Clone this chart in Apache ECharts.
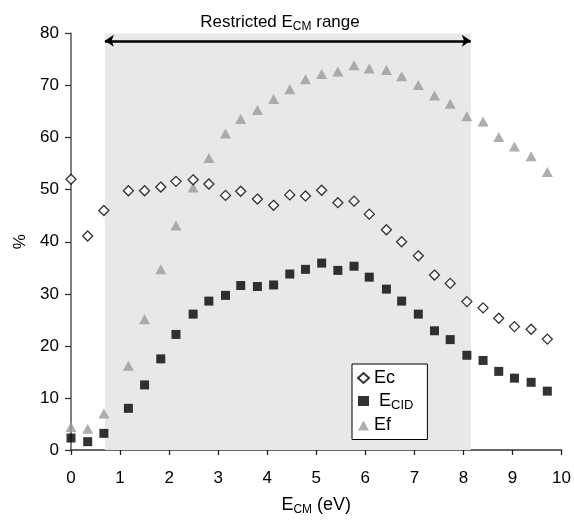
<!DOCTYPE html>
<html>
<head>
<meta charset="utf-8">
<script src="https://cdn.jsdelivr.net/npm/echarts@6/dist/echarts.min.js"></script>
<style>
html,body{margin:0;padding:0;background:#fff;overflow:hidden;}
#c{width:574px;height:521px;}
</style>
</head>
<body>
<div id="c"></div>
<script>
var ecm = [0, 0.34, 0.67, 1.17, 1.50, 1.83, 2.14, 2.49, 2.81, 3.15, 3.46, 3.80, 4.13, 4.46, 4.78, 5.11, 5.44, 5.77, 6.08, 6.43, 6.74, 7.08, 7.41, 7.73, 8.07, 8.40, 8.72, 9.04, 9.38, 9.71];
var ec = [52.0, 41.1, 46.0, 49.8, 49.8, 50.5, 51.6, 51.9, 51.1, 48.9, 49.7, 48.2, 47.0, 49.0, 48.8, 49.9, 47.5, 47.8, 45.3, 42.3, 40.0, 37.3, 33.6, 32.0, 28.5, 27.3, 25.3, 23.7, 23.2, 21.3];
var ecid = [2.3, 1.6, 3.2, 8.0, 12.5, 17.5, 22.2, 26.1, 28.6, 29.7, 31.6, 31.4, 31.7, 33.8, 34.7, 35.9, 34.5, 35.3, 33.2, 30.9, 28.6, 26.1, 22.9, 21.2, 18.2, 17.2, 15.1, 13.8, 13.0, 11.3];
var ef = [4.4, 4.1, 7.0, 16.2, 25.1, 34.7, 43.1, 50.4, 56.1, 60.8, 63.6, 65.3, 67.4, 69.3, 71.2, 72.2, 72.7, 73.9, 73.3, 73.0, 71.8, 70.1, 68.1, 66.5, 64.1, 63.1, 60.1, 58.3, 56.4, 53.4];
var rangeStart = 0.69, rangeEnd = 8.15, arrowY = 78.6;
var xTicks = [0,1,2,3,4,5,6,7,8,9,10];
var yTicks = [0,10,20,30,40,50,60,70,80];

function pairs(xs, ys){ return xs.map(function(x,i){ return [x, ys[i]]; }); }

var FONT = '"Liberation Sans", Arial, sans-serif';
var chart = echarts.init(document.getElementById('c'), null, { width: 574, height: 521 });
chart.setOption({
  animation: false,
  textStyle: { fontFamily: FONT },
  grid: { left: 71, right: 9, top: 33.5, bottom: 66.7, containLabel: false },
  graphic: [{
    type: 'text', x: 280, y: 12,
    style: {
      text: '{a|Restricted E}{b|CM}{a| range}',
      textAlign: 'center',
      fill: '#000',
      rich: {
        a: { fontSize: 17, lineHeight: 21, fontFamily: FONT, color: '#000' },
        b: { fontSize: 12, lineHeight: 12, verticalAlign: 'bottom', fontFamily: FONT, color: '#000' }
      }
    }
  }],
  xAxis: {
    type: 'value', min: 0, max: 10, interval: 1,
    name: '{a|E}{b|CM}{a| (eV)}',
    nameLocation: 'middle', nameGap: 44,
    nameTextStyle: {
      rich: {
        a: { fontSize: 18, lineHeight: 22, fontFamily: FONT, color: '#000' },
        b: { fontSize: 12, lineHeight: 12, verticalAlign: 'bottom', fontFamily: FONT, color: '#000' }
      }
    },
    axisLine: { onZero: false, lineStyle: { color: '#333', width: 1.5 } },
    axisTick: { inside: false, length: 5, lineStyle: { color: '#222', width: 1.3 } },
    axisLabel: { fontSize: 17, color: '#000', margin: 20, fontFamily: FONT,
      formatter: function(v){ return xTicks.indexOf(v) >= 0 ? String(v) : ''; } },
    splitLine: { show: false }
  },
  yAxis: {
    type: 'value', min: 0, max: 80, interval: 10,
    name: '%', nameLocation: 'middle', nameGap: 42, nameRotate: 90,
    nameTextStyle: { fontSize: 17, color: '#000', fontFamily: FONT },
    axisLine: { show: true, lineStyle: { color: '#808080', width: 2 } },
    axisTick: { show: true, inside: false, length: 6, lineStyle: { color: '#333', width: 1.3 } },
    axisLabel: { fontSize: 17, color: '#000', margin: 12, fontFamily: FONT,
      formatter: function(v){ return yTicks.indexOf(v) >= 0 ? String(v) : ''; } },
    splitLine: { show: false }
  },
  legend: {
    orient: 'vertical', left: 352, top: 364,
    padding: [5, 14, 5, 5],
    itemGap: 5,
    itemWidth: 11, itemHeight: 10,
    backgroundColor: '#fff',
    borderColor: '#000', borderWidth: 1,
    data: ['Ec', 'ECID', 'Ef'],
    formatter: function(name){
      if (name === 'ECID') return '{a| E}{b|CID}';
      return '{a|' + name + '}';
    },
    textStyle: {
      rich: {
        a: { fontSize: 18, lineHeight: 21, fontFamily: FONT, color: '#000' },
        b: { fontSize: 13, lineHeight: 13, verticalAlign: 'bottom', fontFamily: FONT, color: '#000' }
      }
    }
  },
  series: [
    {
      name: 'Ef', type: 'scatter', z: 3,
      symbol: 'triangle', symbolSize: [11, 10],
      itemStyle: { color: '#9a9a9a' },
      data: pairs(ecm, ef),
      markArea: {
        silent: true,
        itemStyle: { color: '#e8e8e8' },
        data: [[{ xAxis: rangeStart, yAxis: 0 }, { xAxis: rangeEnd, yAxis: 80 }]]
      },
      markLine: {
        silent: true,
        symbol: ['arrow', 'arrow'], symbolSize: [9, 9],
        label: { show: false },
        lineStyle: { color: '#000', width: 2.5, type: 'solid' },
        data: [[{ coord: [rangeStart, arrowY] }, { coord: [rangeEnd, arrowY] }]]
      }
    },
    {
      name: 'ECID', type: 'scatter', z: 4,
      symbol: 'rect', symbolSize: 9,
      itemStyle: { color: '#000' },
      data: pairs(ecm, ecid)
    },
    {
      name: 'Ec', type: 'scatter', z: 5,
      symbol: 'diamond', symbolSize: 10,
      itemStyle: { color: '#fff', borderColor: '#000', borderWidth: 1.3 },
      data: pairs(ecm, ec)
    }
  ]
});
</script>
</body>
</html>
